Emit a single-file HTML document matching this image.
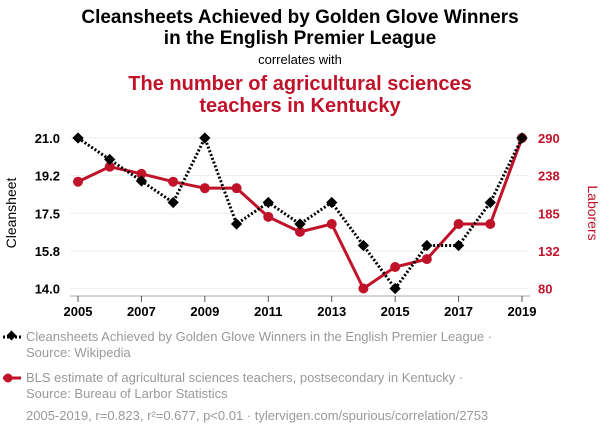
<!DOCTYPE html>
<html><head><meta charset="utf-8"><style>
body{margin:0;background:#fff;font-family:"Liberation Sans",sans-serif}
svg text{font-family:"Liberation Sans",sans-serif}
</style></head><body>
<svg id="chart" width="600" height="436" viewBox="0 0 600 436">
<text x="300" y="23" text-anchor="middle" font-size="19" font-weight="bold" fill="#000">Cleansheets Achieved by Golden Glove Winners</text>
<text x="300" y="44" text-anchor="middle" font-size="19" font-weight="bold" fill="#000">in the English Premier League</text>
<text x="300" y="64" text-anchor="middle" font-size="13" fill="#000">correlates with</text>
<text x="300" y="90" text-anchor="middle" font-size="20" font-weight="bold" fill="#c0132a">The number of agricultural sciences</text>
<text x="300" y="112" text-anchor="middle" font-size="20" font-weight="bold" fill="#c0132a">teachers in Kentucky</text>
<g id="grid"></g><g id="axes"></g><g id="series"></g>
<text transform="translate(16,213) rotate(-90)" text-anchor="middle" font-size="14" fill="#000">Cleansheet</text>
<text transform="translate(588,213) rotate(90)" text-anchor="middle" font-size="14" fill="#c0132a">Laborers</text>
<g>
<line x1="3" y1="337" x2="21" y2="337" stroke="#000" stroke-width="3" stroke-dasharray="2,2"/>
<rect x="8" y="332" width="7" height="7" transform="rotate(45 11.5 335.5)" fill="#000"/>
<text x="26" y="341" font-size="13" fill="#999">Cleansheets Achieved by Golden Glove Winners in the English Premier League ·</text>
<text x="26" y="357" font-size="13" fill="#999">Source: Wikipedia</text>
</g>
<g>
<line x1="3" y1="378" x2="21" y2="378" stroke="#c0132a" stroke-width="3"/>
<circle cx="8" cy="378" r="4.5" fill="#c0132a"/>
<text x="26" y="382" font-size="13" fill="#999">BLS estimate of agricultural sciences teachers, postsecondary in Kentucky ·</text>
<text x="26" y="398" font-size="13" fill="#999">Source: Bureau of Larbor Statistics</text>
</g>
<text x="26" y="420" font-size="13" fill="#999">2005-2019, r=0.823, r²=0.677, p&lt;0.01 · tylervigen.com/spurious/correlation/2753</text>
</svg>
<script>
const years=[2005,2006,2007,2008,2009,2010,2011,2012,2013,2014,2015,2016,2017,2018,2019];
const cleansheets=[21,20,19,18,21,17,18,17,18,16,14,16,16,18,21];
const teachers=[229,250,240,229,220,220,180,159,170,80,110,121,170,170,290];
const leftTicks=["14.0","15.8","17.5","19.2","21.0"];
const rightTicks=["80","132","185","238","290"];
const xTicks=[2005,2007,2009,2011,2013,2015,2017,2019];
const NS="http://www.w3.org/2000/svg";
const x=v=>78+(v-2005)/14*444;
const yL=v=>288.5-(v-14)/7*150.5;
const yR=v=>288.5-(v-80)/210*150.5;
function mk(t,a,p){const e=document.createElementNS(NS,t);for(const k in a)e.setAttribute(k,a[k]);document.getElementById(p).appendChild(e);return e;}
leftTicks.forEach((t,i)=>{const yy=yL(14+i*1.75);
 const g=mk('line',{x1:70,x2:528,y1:yy,y2:yy,stroke:'#eee','stroke-width':1},'grid');
 
 
 const l=mk('text',{x:60,y:yy+5,'text-anchor':'end','font-size':13,'font-weight':'bold',fill:'#000'},'axes');l.textContent=t;
 
 
 const r=mk('text',{x:538,y:yy+5,'font-size':13,'font-weight':'bold',fill:'#c0132a'},'axes');r.textContent=rightTicks[i];
 
 
});
const ax=mk('line',{x1:70,x2:530,y1:296,y2:296,stroke:'#aaa'},'axes');


xTicks.forEach(v=>{mk('line',{x1:x(v),x2:x(v),y1:296,y2:302,stroke:'#555'},'axes');
 const t=mk('text',{x:x(v),y:316,'text-anchor':'middle','font-size':13,'font-weight':'bold',fill:'#000'},'axes');t.textContent=v;
 
 
});
const rl=mk('polyline',{points:years.map((v,i)=>x(v)+','+yR(teachers[i])).join(' '),fill:'none',stroke:'#c0132a','stroke-width':3},'series');


years.forEach((v,i)=>{const c=mk('circle',{cx:x(v),cy:yR(teachers[i]),r:5,fill:'#c0132a'},'series');
 
 });
const bl=mk('polyline',{points:years.map((v,i)=>x(v)+','+yL(cleansheets[i])).join(' '),fill:'none',stroke:'#000','stroke-width':3,'stroke-dasharray':'2,2'},'series');


years.forEach((v,i)=>{const cx=x(v),cy=yL(cleansheets[i]);
 const d=mk('rect',{x:cx-4,y:cy-4,width:8,height:8,transform:`rotate(45 ${cx} ${cy})`,fill:'#000'},'series');
 
 });
</script>
</body></html>
